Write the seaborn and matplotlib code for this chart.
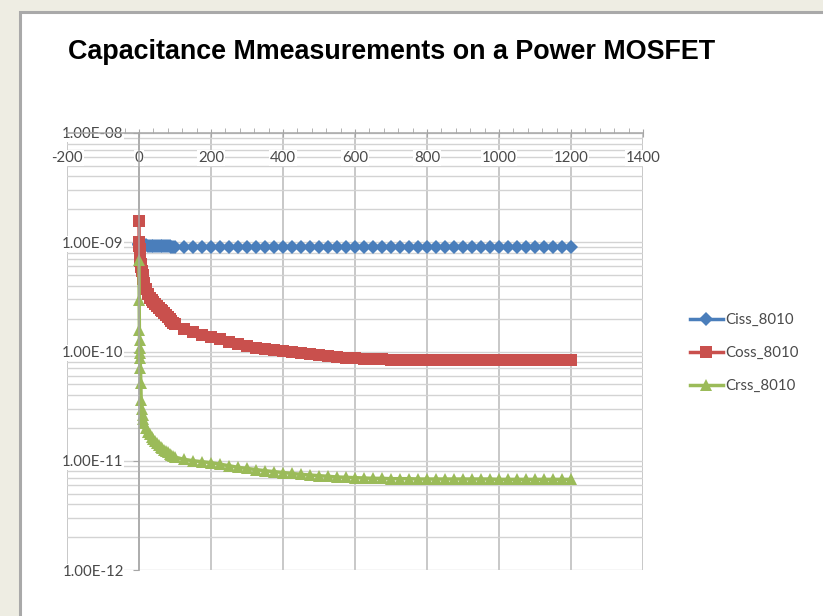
import numpy as np
import pandas as pd
import matplotlib
matplotlib.use("Agg")
import matplotlib.pyplot as plt
import seaborn as sns
from matplotlib.ticker import (LogLocator, FixedLocator, FuncFormatter,
                               MultipleLocator, NullLocator, NullFormatter)
from matplotlib.patches import Rectangle

# ---------------- data ----------------
title = "Capacitance Mmeasurements on a Power MOSFET"
series_names = ["Ciss_8010", "Coss_8010", "Crss_8010"]

voltage = [0, 0.5, 1, 1.5, 2, 2.5, 3, 4, 5, 6, 8, 10, 12, 15, 20, 25,
           30, 35, 40, 45, 50, 55, 60, 65, 70, 75, 80, 85, 90, 95, 100,
           125, 150, 175, 200, 225, 250, 275, 300, 325, 350, 375, 400, 425,
           450, 475, 500, 525, 550, 575, 600, 625, 650, 675, 700, 725, 750,
           775, 800, 825, 850, 875, 900, 925, 950, 975, 1000, 1025, 1050,
           1075, 1100, 1125, 1150, 1175, 1200]

ciss = [9.6e-10, 9.6e-10, 9.5e-10, 9.5e-10, 9.5e-10, 9.5e-10, 9.5e-10, 9.4e-10,
        9.4e-10, 9.4e-10, 9.4e-10, 9.4e-10, 9.4e-10, 9.35e-10, 9.35e-10, 9.3e-10,
        9.3e-10, 9.3e-10, 9.25e-10, 9.25e-10, 9.2e-10, 9.2e-10, 9.2e-10, 9.2e-10,
        9.15e-10, 9.15e-10, 9.15e-10, 9.15e-10, 9.1e-10, 9.1e-10, 9.1e-10,
        9.1e-10, 9.1e-10, 9.1e-10, 9.1e-10, 9.1e-10, 9.1e-10, 9.1e-10, 9.1e-10,
        9.1e-10, 9.1e-10, 9.1e-10, 9.1e-10, 9.1e-10, 9.1e-10, 9.1e-10, 9.1e-10,
        9.1e-10, 9.1e-10, 9.1e-10, 9.1e-10, 9.1e-10, 9.1e-10, 9.1e-10, 9.1e-10,
        9.1e-10, 9.1e-10, 9.1e-10, 9.1e-10, 9.1e-10, 9.1e-10, 9.1e-10, 9.1e-10,
        9.1e-10, 9.1e-10, 9.1e-10, 9.1e-10, 9.1e-10, 9.1e-10, 9.1e-10, 9.1e-10,
        9.1e-10, 9.1e-10, 9.1e-10, 9.1e-10]

coss = [1.55e-9, 1.0e-9, 9.3e-10, 8.7e-10, 8.2e-10, 7.8e-10, 7.4e-10, 6.8e-10,
        6.3e-10, 5.9e-10, 5.4e-10, 5.0e-10, 4.6e-10, 4.2e-10, 3.7e-10, 3.35e-10,
        3.1e-10, 2.95e-10, 2.82e-10, 2.7e-10, 2.6e-10, 2.5e-10, 2.42e-10, 2.33e-10,
        2.25e-10, 2.15e-10, 2.05e-10, 1.97e-10, 1.9e-10, 1.84e-10, 1.78e-10,
        1.6e-10, 1.5e-10, 1.42e-10, 1.36e-10, 1.29e-10, 1.23e-10, 1.17e-10, 1.12e-10,
        1.08e-10, 1.05e-10, 1.03e-10, 1.01e-10, 9.9e-11, 9.7e-11, 9.5e-11, 9.3e-11,
        9.1e-11, 8.95e-11, 8.8e-11, 8.7e-11, 8.6e-11, 8.5e-11, 8.45e-11, 8.4e-11,
        8.4e-11, 8.35e-11, 8.35e-11, 8.35e-11, 8.3e-11, 8.3e-11, 8.3e-11, 8.3e-11,
        8.3e-11, 8.3e-11, 8.3e-11, 8.3e-11, 8.3e-11, 8.3e-11, 8.3e-11, 8.3e-11,
        8.3e-11, 8.3e-11, 8.3e-11, 8.3e-11]

crss = [6.85e-10, 2.95e-10, 1.57e-10, 1.27e-10, 1.08e-10, 9.7e-11, 8.7e-11, 7.1e-11,
        5.2e-11, 3.6e-11, 3.0e-11, 2.6e-11, 2.4e-11, 2.2e-11, 2.0e-11, 1.85e-11,
        1.75e-11, 1.65e-11, 1.58e-11, 1.52e-11, 1.46e-11, 1.4e-11, 1.35e-11, 1.3e-11,
        1.26e-11, 1.22e-11, 1.19e-11, 1.16e-11, 1.13e-11, 1.1e-11, 1.08e-11,
        1.03e-11, 1.0e-11, 9.8e-12, 9.6e-12, 9.3e-12, 9.0e-12, 8.7e-12, 8.5e-12,
        8.3e-12, 8.1e-12, 7.95e-12, 7.8e-12, 7.65e-12, 7.5e-12, 7.4e-12, 7.3e-12,
        7.2e-12, 7.1e-12, 7.05e-12, 7.0e-12, 6.95e-12, 6.9e-12, 6.9e-12, 6.85e-12,
        6.85e-12, 6.85e-12, 6.8e-12, 6.8e-12, 6.8e-12, 6.8e-12, 6.8e-12, 6.8e-12,
        6.8e-12, 6.8e-12, 6.8e-12, 6.75e-12, 6.75e-12, 6.75e-12, 6.75e-12, 6.75e-12,
        6.75e-12, 6.75e-12, 6.75e-12, 6.75e-12]

x_ticks = [-200, 0, 200, 400, 600, 800, 1000, 1200, 1400]
y_ticks = [1e-12, 1e-11, 1e-10, 1e-9, 1e-8]

colors = {"Ciss_8010": "#4a7ebb", "Coss_8010": "#c9504d", "Crss_8010": "#9bbb59"}
markers = {"Ciss_8010": "D", "Coss_8010": "s", "Crss_8010": "^"}
msizes = {"Ciss_8010": 7.2, "Coss_8010": 8.0, "Crss_8010": 8.0}

df = pd.DataFrame({
    "V": voltage * 3,
    "C": ciss + coss + crss,
    "series": [series_names[0]] * len(voltage) + [series_names[1]] * len(voltage)
              + [series_names[2]] * len(voltage),
})

# ---------------- figure ----------------
plt.rcParams["font.family"] = ["Lato", "DejaVu Sans"]
W_PX, H_PX = 823, 616
fig = plt.figure(figsize=(W_PX / 100, H_PX / 100), dpi=100, facecolor="#eeede3")

# white panel with grey border
panel = Rectangle((20 / W_PX, -0.02), 1.0, 1 - 12 / H_PX + 0.02,
                  transform=fig.transFigure, facecolor="white",
                  edgecolor="#a9a9a9", linewidth=2.2, zorder=-10)
fig.add_artist(panel)

left, right = 67 / W_PX, 643 / W_PX
bottom, top = 1 - 570 / H_PX, 1 - 133 / H_PX
rect = [left, bottom, right - left, top - bottom]

xlim = (-200, 1400)
ylim = (1e-12, 1e-8)
txt_col = "#4a4a4a"

# background axes: gridlines only
axg = fig.add_axes(rect, zorder=0)
axg.set_xlim(*xlim)
axg.set_yscale("log")
axg.set_ylim(*ylim)
axg.xaxis.set_major_locator(FixedLocator(x_ticks))
axg.yaxis.set_major_locator(LogLocator(base=10, numticks=20))
axg.yaxis.set_minor_locator(LogLocator(base=10, subs=np.arange(2, 10), numticks=20))
axg.grid(axis="x", which="major", color="#b9b9b9", linewidth=1.1)
axg.grid(axis="y", which="both", color="#d3d3d3", linewidth=1.0)
axg.tick_params(which="both", length=0, labelleft=False, labelbottom=False)
for s in axg.spines.values():
    s.set_visible(False)
axg.set_facecolor("white")

# main axes: data, axes lines, labels
ax = fig.add_axes(rect, zorder=1)
ax.set_facecolor("none")
ax.set_yscale("log")

for name in series_names:
    sub = df[df["series"] == name]
    sns.lineplot(data=sub, x="V", y="C", ax=ax, color=colors[name],
                 marker=markers[name], markersize=msizes[name],
                 markeredgewidth=0, linewidth=2.5, label=name,
                 estimator=None, sort=False)

ax.set_xlim(*xlim)
ax.set_ylim(*ylim)
ax.set_xlabel("")
ax.set_ylabel("")

# x axis sits at the top (crosses at 1e-8), labels below it
ax.spines["bottom"].set_position(("axes", 1.0))
ax.spines["left"].set_position(("data", 0))
ax.spines["top"].set_visible(False)
ax.spines["right"].set_visible(False)
for s in ("bottom", "left"):
    ax.spines[s].set_color("#a6a6a6")
    ax.spines[s].set_linewidth(1.1)

ax.xaxis.set_major_locator(FixedLocator(x_ticks))
ax.xaxis.set_minor_locator(MultipleLocator(40))
ax.xaxis.set_major_formatter(FuncFormatter(lambda v, p: f"{v:.0f}"))
ax.tick_params(axis="x", which="major", direction="inout", length=6,
               color="#a6a6a6", labelsize=10.8, labelcolor=txt_col, pad=10)
ax.tick_params(axis="x", which="minor", direction="in", length=3.5,
               color="#a6a6a6")

ax.yaxis.set_major_locator(FixedLocator(y_ticks))
ax.yaxis.set_minor_locator(NullLocator())
ax.yaxis.set_major_formatter(FuncFormatter(lambda v, p: f"{v:.2E}"))
ax.yaxis.set_minor_formatter(NullFormatter())
ax.tick_params(axis="y", which="major", direction="out", length=4,
               color="#a6a6a6", labelsize=10.8, labelcolor=txt_col, pad=7)

leg = ax.legend(loc="center left", bbox_to_anchor=(676 / W_PX, 1 - 353 / H_PX),
                bbox_transform=fig.transFigure, frameon=False, fontsize=10.8,
                handlelength=2.2, labelspacing=1.25, handletextpad=0.15,
                labelcolor=txt_col)

fig.text(68 / W_PX, 1 - 52 / H_PX, title, fontsize=19.4, fontweight="bold",
         family=["Liberation Sans", "DejaVu Sans"], ha="left", va="center",
         color="black")

fig.canvas.draw()
for lbl in ax.get_yticklabels() + ax.get_xticklabels():
    lbl.set_bbox(dict(facecolor="white", edgecolor="none", pad=0.5))

fig.savefig("out.png", dpi=100, facecolor=fig.get_facecolor())
